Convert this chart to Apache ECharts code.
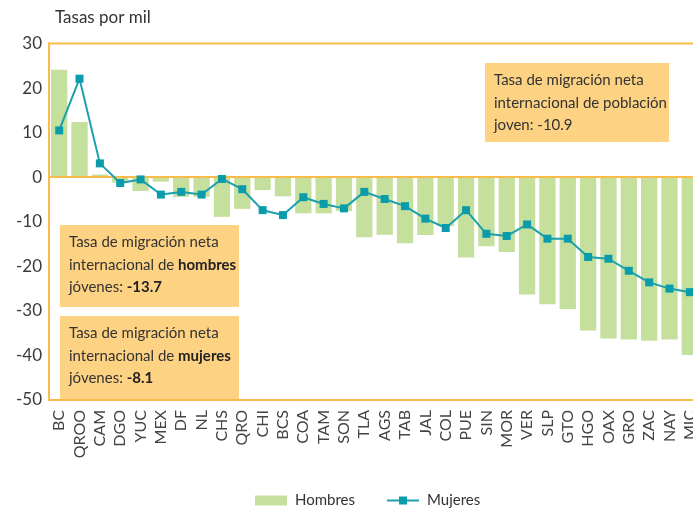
<!DOCTYPE html>
<html>
<head>
    <meta charset="utf-8">
    <title>Tasas de migración neta internacional</title>
    <script src="https://cdn.jsdelivr.net/npm/echarts@6/dist/echarts.min.js"></script>
    <style>
        html, body { margin: 0; padding: 0; overflow: hidden; background: #fff; }
        #main { width: 720px; height: 516px; }
    </style>
</head>
<body>
<div id="main"></div>
<script>
    // entidades
    var estados = ['BC', 'QROO', 'CAM', 'DGO', 'YUC', 'MEX', 'DF', 'NL', 'CHS', 'QRO', 'CHI', 'BCS', 'COA', 'TAM', 'SON', 'TLA',
        'AGS', 'TAB', 'JAL', 'COL', 'PUE', 'SIN', 'MOR', 'VER', 'SLP', 'GTO', 'HGO', 'OAX', 'GRO', 'ZAC', 'NAY', 'MIC'];
    // tasas por mil
    var hombres = [24.1, 12.4, 0.6, -1.2, -3.1, -1.0, -4.4, -4.4, -8.9, -7.1, -2.9, -4.3, -8.1, -8.1, -7.6, -13.5,
        -12.9, -14.8, -13.0, -11.0, -18.0, -15.5, -16.8, -26.3, -28.5, -29.6, -34.4, -36.2, -36.4, -36.7, -36.4, -39.9];
    var mujeres = [10.5, 22.1, 3.1, -1.3, -0.5, -3.9, -3.3, -3.9, -0.4, -2.7, -7.4, -8.5, -4.5, -6.0, -7.0, -3.3,
        -4.9, -6.5, -9.3, -11.4, -7.4, -12.7, -13.2, -10.6, -13.8, -13.8, -17.9, -18.3, -21.0, -23.6, -25.0, -25.8];
    var ejeY = { min: -50, max: 30, paso: 10 };

    var fuente = 'Lato, "Open Sans", sans-serif';
    var naranja = '#F9BC4B';
    var caja = '#FDD283';

    function nota(x, y, w, h, texto) {
        return [{
            type: 'rect', left: x, top: y, z: 10,
            shape: { width: w, height: h },
            style: { fill: caja }
        }, {
            type: 'text', left: x + 9, top: y + 6, z: 11,
            style: {
                text: texto, fill: '#333', fontFamily: fuente, fontSize: 15, lineHeight: 22.5,
                rich: {
                    b: { fontWeight: 'bold', fontFamily: fuente, fontSize: 15, fill: '#222', lineHeight: 22.5 }
                }
            }
        }];
    }

    var myChart = echarts.init(document.getElementById('main'));
    myChart.setOption({
        animation: false,
        textStyle: { fontFamily: fuente },
        title: {
            text: 'Tasas por mil', left: 50, top: 4,
            textStyle: { fontSize: 17, fontWeight: 'normal', color: '#333', fontFamily: fuente }
        },
        grid: {
            left: 49, right: 20, top: 43.5, bottom: 116,
            show: true, borderColor: naranja, borderWidth: 2, backgroundColor: 'transparent'
        },
        legend: {
            left: 250, bottom: 3,
            itemWidth: 32, itemHeight: 10, itemGap: 31,
            textStyle: { fontSize: 15, color: '#333', fontFamily: fuente, padding: [0, 0, 0, 3] },
            data: [{ name: 'Hombres', icon: 'rect' }, { name: 'Mujeres' }]
        },
        xAxis: {
            type: 'category', data: estados,
            axisLine: { show: false, onZero: false },
            axisTick: { show: false },
            axisLabel: { rotate: 90, margin: 10, interval: 0, fontSize: 16, color: '#444', fontFamily: fuente }
        },
        yAxis: {
            type: 'value', min: ejeY.min, max: ejeY.max, interval: ejeY.paso,
            splitLine: { show: false },
            axisTick: { show: false },
            axisLine: { show: true, lineStyle: { color: naranja, width: 2 } },
            axisLabel: { fontSize: 17, color: '#3a3a3a', margin: 7, fontFamily: fuente }
        },
        series: [{
            name: 'Hombres', type: 'bar', data: hombres,
            barCategoryGap: '20%',
            itemStyle: { color: '#C5DF9C' },
            markLine: {
                silent: true, symbol: 'none', label: { show: false },
                lineStyle: { color: naranja, width: 2, type: 'solid' },
                data: [{ yAxis: 0 }]
            }
        }, {
            name: 'Mujeres', type: 'line', data: mujeres,
            symbol: 'rect', symbolSize: 8,
            itemStyle: { color: '#0B9CAB' },
            lineStyle: { color: '#1BA0AE', width: 2 },
            z: 5
        }],
        graphic: [].concat(
            nota(485, 63, 184, 79, 'Tasa de migración neta\ninternacional de población\njoven: -10.9'),
            nota(60, 225, 179, 82, 'Tasa de migración neta\ninternacional de {b|hombres}\njóvenes: {b|-13.7}'),
            nota(60, 316, 179, 83, 'Tasa de migración neta\ninternacional de {b|mujeres}\njóvenes: {b|-8.1}')
        )
    });
</script>
</body>
</html>
